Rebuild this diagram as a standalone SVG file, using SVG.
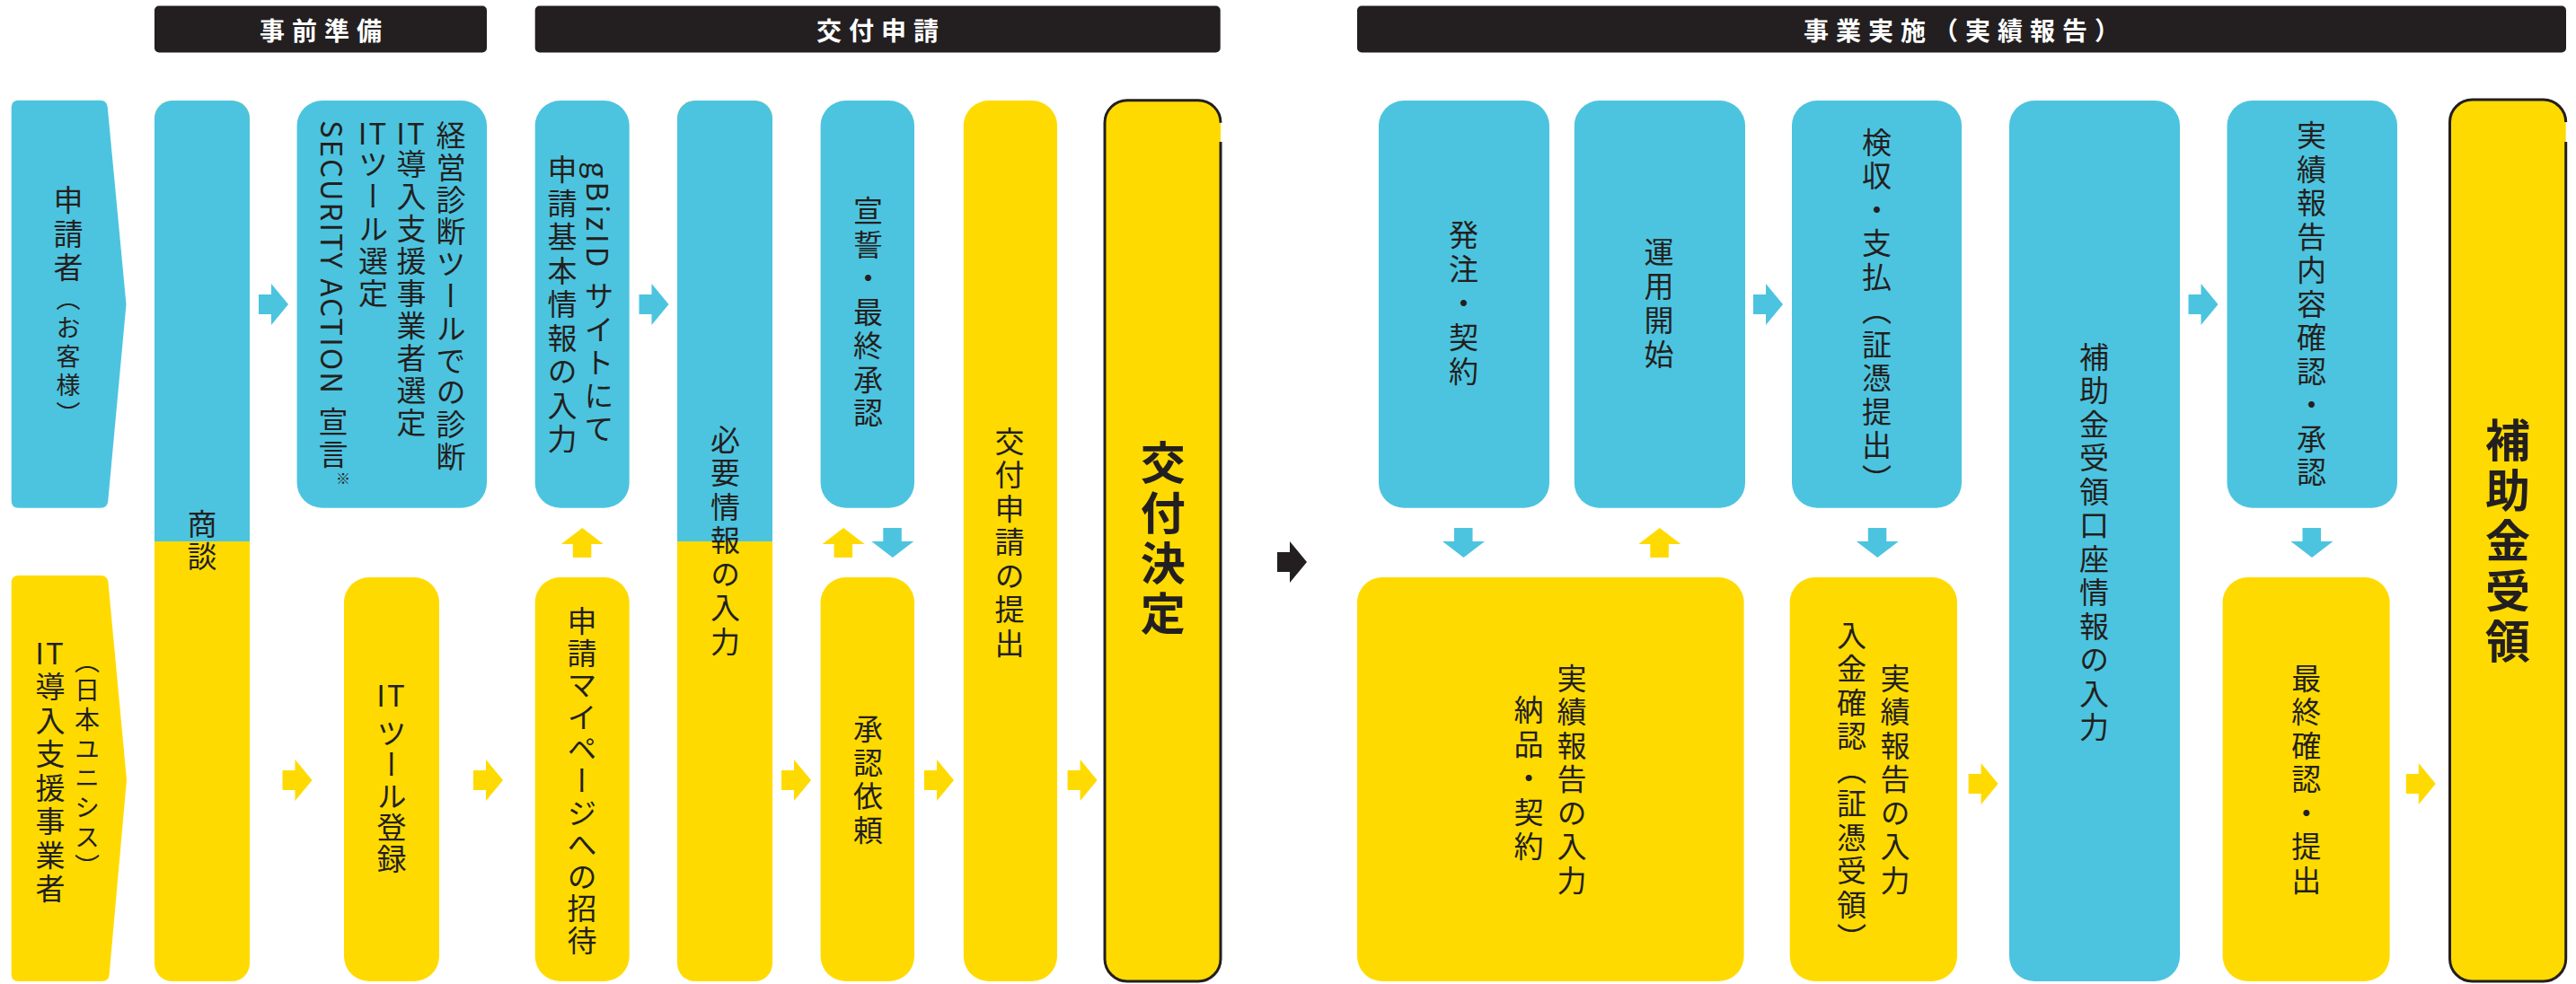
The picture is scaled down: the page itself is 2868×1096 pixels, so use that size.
<svg xmlns="http://www.w3.org/2000/svg" width="2868" height="1096" viewBox="0 0 2868 1096">
<style>
.b{fill:#4CC4DF}
.y{fill:#FFDA00}
.k{fill:#231F20}
.bd{fill:none;stroke:#231F20;stroke-width:3}
.hd{font-family:"Noto Sans CJK JP","Noto Sans",sans-serif;font-size:28px;font-weight:700;fill:#FFFFFF;letter-spacing:8px;text-anchor:middle;dominant-baseline:central}
.v{font-family:"Noto Sans CJK JP","Noto Sans",sans-serif;font-size:33px;fill:#231F20;writing-mode:vertical-rl;letter-spacing:4.5px}
.vb{font-family:"Noto Sans CJK JP","Noto Sans",sans-serif;font-size:50px;font-weight:700;fill:#231F20;writing-mode:vertical-rl;letter-spacing:6px}
.sm{font-size:27px;letter-spacing:5px}
.lat{font-family:"Noto Sans CJK JP","Noto Sans",sans-serif;font-size:33px;fill:#231F20;text-anchor:middle;letter-spacing:2px}
.note{font-family:"Noto Sans CJK JP","Noto Sans",sans-serif;font-size:16px;fill:#231F20;text-anchor:middle}
</style>
<defs>
<path id="arrR" d="M0,12 H14 V0 L33,23 L14,46 V34 H0 Z"/>
<path id="arrU" d="M23.5,0 L47,18 H33.5 V33 H13 V18 H0 Z"/>
<path id="arrD" d="M13,0 H33.5 V15 H47 L23.5,33 L0,15 H13 Z"/>
</defs>

<g id="headers">
<rect class="k" x="172" y="6.5" width="370" height="52" rx="5"/>
<text class="hd" x="361" y="33">事前準備</text>
<rect class="k" x="595.7" y="6.5" width="763" height="52" rx="5"/>
<text class="hd" x="981" y="33">交付申請</text>
<rect class="k" x="1511" y="6.5" width="1346" height="52" rx="5"/>
<text class="hd" x="2188" y="33">事業実施（実績報告）</text>
</g>

<g id="n-applicant">
<path class="b" d="M20.7,111.7 H111.3 Q119.3,111.7 119.8,119.7 L140.5,339 L120.3,557.7 Q119.8,565.7 111.8,565.7 H20.7 Q12.7,565.7 12.7,557.7 V119.7 Q12.7,111.7 20.7,111.7 Z"/>
<text class="v" x="76" y="206">申請者<tspan class="sm">（お客様）</tspan></text>
</g>

<g id="n-vendor">
<path class="y" d="M20.7,641 H112 Q120,641 120.5,649 L141,868.6 L121.7,1085 Q121.3,1093 113,1093 H20.7 Q12.7,1093 12.7,1085 V649 Q12.7,641 20.7,641 Z"/>
<text class="lat" x="56" y="740">IT</text>
<text class="v" x="56" y="748">導入支援事業者</text>
<text class="v sm" x="97" y="722" style="font-size:28px;letter-spacing:4.7px">（日本ユニシス）</text>
</g>

<g id="n-shodan">
<rect class="y" x="172" y="112" width="106" height="981" rx="20"/>
<path class="b" d="M172,603 V132 A20,20 0 0 1 192,112 H258 A20,20 0 0 1 278,132 V603 Z"/>
<text class="v" x="225" y="567" style="letter-spacing:3px">商談</text>
</g>

<g id="n-keiei">
<rect class="b" x="330.6" y="112" width="211.4" height="453.7" rx="28"/>
<text class="v" x="502" y="134" style="letter-spacing:2.8px">経営診断ツールでの診断</text>
<text class="lat" x="458" y="161">IT</text>
<text class="v" x="458" y="166.4" style="letter-spacing:3px">導入支援事業者選定</text>
<text class="lat" x="415.5" y="161">IT</text>
<text class="v" x="415.5" y="166.4" style="letter-spacing:3px">ツール選定</text>
<text class="v" x="371" y="134"><tspan style="letter-spacing:2px">SECURITY ACTION</tspan><tspan y="453" style="letter-spacing:3px">宣言</tspan></text>
<text class="note" x="382" y="539">※</text>
</g>

<g id="n-ittool">
<rect class="y" x="383" y="643" width="106" height="450" rx="28"/>
<text class="lat" x="436" y="787">IT</text>
<text class="v" x="436" y="800" style="letter-spacing:2px">ツール登録</text>
</g>

<g id="n-gbiz">
<rect class="b" x="595.7" y="112" width="105" height="453.7" rx="28"/>
<text class="v" x="667" y="180" style="letter-spacing:4px">gBizID サイトにて</text>
<text class="v" x="626" y="172">申請基本情報の入力</text>
</g>

<g id="n-mypage">
<rect class="y" x="595.7" y="643" width="105" height="450" rx="28"/>
<text class="v" x="648" y="675" style="letter-spacing:2.6px">申請マイページへの招待</text>
</g>

<g id="n-hitsuyo">
<rect class="y" x="754" y="112" width="106" height="981" rx="20"/>
<path class="b" d="M754,603 V132 A20,20 0 0 1 774,112 H840 A20,20 0 0 1 860,132 V603 Z"/>
<text class="v" x="807.5" y="472.6">必要情報の入力</text>
</g>

<g id="n-sensei">
<rect class="b" x="913.6" y="112" width="104.4" height="453.7" rx="28"/>
<text class="v" x="966.6" y="218">宣誓・最終承認</text>
</g>

<g id="n-shonin">
<rect class="y" x="913.6" y="643" width="104.4" height="450" rx="28"/>
<text class="v" x="966.6" y="795">承認依頼</text>
</g>

<g id="n-teishutsu">
<rect class="y" x="1072.8" y="112" width="104.2" height="981" rx="28"/>
<text class="v" x="1124" y="474.5">交付申請の提出</text>
</g>

<g id="n-kettei">
<rect class="y" x="1230" y="111.7" width="129" height="981.3" rx="25"/>
<path class="bd" d="M1359,158 V1068 A25,25 0 0 1 1334,1093 H1255 A25,25 0 0 1 1230,1068 V136.7 A25,25 0 0 1 1255,111.7 H1334 A25,25 0 0 1 1359,136.7"/>
<text class="vb" x="1294.7" y="490">交付決定</text>
</g>

<g id="n-hatchu">
<rect class="b" x="1535" y="112" width="190" height="453.7" rx="28"/>
<text class="v" x="1629.4" y="245" style="letter-spacing:5px">発注・契約</text>
</g>

<g id="n-unyo">
<rect class="b" x="1752.8" y="112" width="190.2" height="453.7" rx="28"/>
<text class="v" x="1847" y="264" style="letter-spacing:5px">運用開始</text>
</g>

<g id="n-kenshu">
<rect class="b" x="1995" y="112" width="189" height="453.7" rx="28"/>
<text class="v" x="2089.6" y="141.5">検収・支払（証憑提出）</text>
</g>

<g id="n-jisseki1">
<rect class="y" x="1511" y="643" width="430.6" height="450" rx="28"/>
<text class="v" x="1750" y="738.8">実績報告の入力</text>
<text class="v" x="1702" y="774" style="letter-spacing:5px">納品・契約</text>
</g>

<g id="n-jisseki2">
<rect class="y" x="1992.7" y="643" width="186.3" height="450" rx="28"/>
<text class="v" x="2110" y="738.8">実績報告の入力</text>
<text class="v" x="2061.5" y="690.8">入金確認（証憑受領）</text>
</g>

<g id="n-koza">
<rect class="b" x="2237" y="112" width="190" height="981" rx="28"/>
<text class="v" x="2331.6" y="380.7">補助金受領口座情報の入力</text>
</g>

<g id="n-naiyo">
<rect class="b" x="2479.5" y="112" width="189.5" height="453.7" rx="28"/>
<text class="v" x="2573.5" y="134">実績報告内容確認・承認</text>
</g>

<g id="n-saishu">
<rect class="y" x="2474.6" y="643" width="186" height="450" rx="28"/>
<text class="v" x="2567.7" y="738.8">最終確認・提出</text>
</g>

<g id="n-juryo">
<rect class="y" x="2727.5" y="111" width="129.2" height="982" rx="25"/>
<path class="bd" d="M2856.7,158 V1068 A25,25 0 0 1 2831.7,1093 H2752.5 A25,25 0 0 1 2727.5,1068 V136 A25,25 0 0 1 2752.5,111 H2831.7 A25,25 0 0 1 2856.7,136"/>
<text class="vb" x="2792" y="465">補助金受領</text>
</g>

<g id="connectors">
<use href="#arrR" class="b" x="288" y="316"/>
<use href="#arrR" class="b" x="711.5" y="316"/>
<use href="#arrR" class="b" x="1952" y="316"/>
<use href="#arrR" class="b" x="2436.5" y="316"/>
<use href="#arrR" class="y" x="314.5" y="846"/>
<use href="#arrR" class="y" x="527" y="846"/>
<use href="#arrR" class="y" x="870" y="846"/>
<use href="#arrR" class="y" x="1029" y="846"/>
<use href="#arrR" class="y" x="1188.6" y="846"/>
<use href="#arrR" class="y" x="2191.6" y="850"/>
<use href="#arrR" class="y" x="2678.8" y="850"/>
<use href="#arrR" class="k" x="1422" y="603"/>
<use href="#arrU" class="y" x="624.8" y="588"/>
<use href="#arrU" class="y" x="915.6" y="588"/>
<use href="#arrU" class="y" x="1824.3" y="588"/>
<use href="#arrD" class="b" x="970.3" y="588"/>
<use href="#arrD" class="b" x="1606" y="588"/>
<use href="#arrD" class="b" x="2066.8" y="588"/>
<use href="#arrD" class="b" x="2550.5" y="588"/>
</g>
</svg>
